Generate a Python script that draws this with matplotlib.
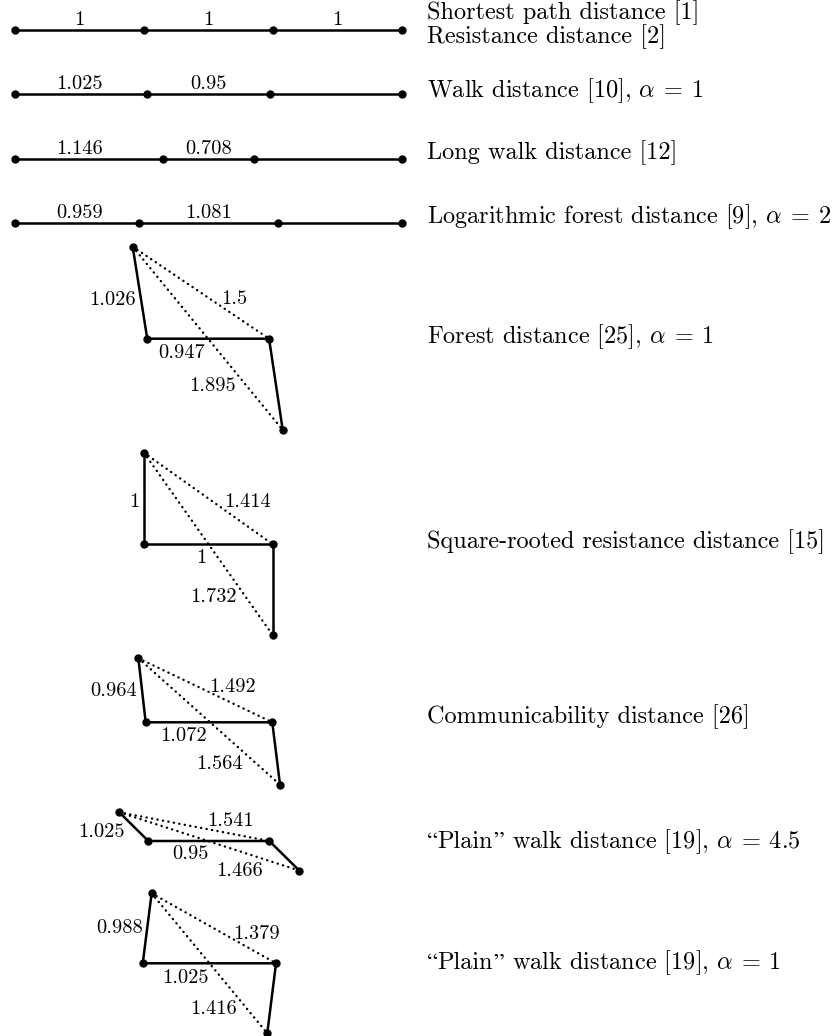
import numpy as np
import matplotlib.pyplot as plt

plt.rcParams['font.family'] = ['cmr10', 'DejaVu Serif']
plt.rcParams['mathtext.fontset'] = 'cm'
plt.rcParams['axes.unicode_minus'] = False

# --- path graph 1-2-3-4 embedded on a line: edge lengths ---
shortest_edges = [1, 1, 1]
walk_edges = [1.025, 0.95, 1.025]
long_walk_edges = [1.146, 0.708, 1.146]
logforest_edges = [0.959, 1.081, 0.959]
line_edges = [shortest_edges, walk_edges, long_walk_edges, logforest_edges]
line_labels = [["1", "1", "1"], ["1.025", "0.95"], ["1.146", "0.708"], ["0.959", "1.081"]]

# --- embeddings drawn in the plane (projected): node coords in distance units ---
# nodes A, B, C, D ; y measured downward from the B-C edge
forest_x = [0.913, 1.026, 1.971, 2.077]
forest_y = [-0.714, 0.0, 0.0, 0.708]
sqrt_res_x = [1.0, 1.0, 2.0, 2.0]
sqrt_res_y = [-0.711, 0.0, 0.0, 0.706]
comm_x = [0.957, 1.014, 1.996, 2.056]
comm_y = [-0.497, 0.0, 0.0, 0.484]
plain45_x = [0.809, 1.034, 1.973, 2.206]
plain45_y = [-0.223, 0.0, 0.0, 0.230]
plain1_x = [1.060, 0.991, 2.025, 1.957]
plain1_y = [-0.543, 0.0, 0.0, 0.543]

# labels for edges AB, AC, BC, AD
forest_labels = ["1.026", "1.5", "0.947", "1.895"]
sqrt_res_labels = ["1", "1.414", "1", "1.732"]
comm_labels = ["0.964", "1.492", "1.072", "1.564"]
plain45_labels = ["1.025", "1.541", "0.95", "1.466"]
plain1_labels = ["0.988", "1.379", "1.025", "1.416"]

# names, split in pieces so the curly quotes can come from another font
Q = 'STIXGeneral'
names = [
    [("Shortest path distance [1]", None)],
    [("Resistance distance [2]", None)],
    [(r"Walk distance [10], $\alpha\:=\:1$", None)],
    [("Long walk distance [12]", None)],
    [(r"Logarithmic forest distance [9], $\alpha\:=\:2$", None)],
    [(r"Forest distance [25], $\alpha\:=\:1$", None)],
    [("Square-rooted resistance distance [15]", None)],
    [("Communicability distance [26]", None)],
    [("\u201c", Q), ("Plain", None), ("\u201d", Q),
     (r" walk distance [19], $\alpha\:=\:4.5$", None)],
    [("\u201c", Q), ("Plain", None), ("\u201d", Q),
     (r" walk distance [19], $\alpha\:=\:1$", None)],
]

# layout (pixels)
W, H = 835, 1036
scale = 128.9      # px per distance unit
x0 = 15
line_rows = [30.3, 94.3, 158.7, 222.7]
panel_rows = [338.7, 544.3, 722.3, 841.0, 963.3]
name_rows = [13.3, 37.3, 90.7, 153, 216.7, 336.7, 541.7, 716.7, 841.7, 963.3]
name_x = 427
# label placement: (t along edge, dx, dy) for AB, AC, BC, AD
label_pos = [
    [(0.5, -27.3, 5.6), (0.75, -0.9, -18.4), (0.5, -26.5, 13), (0.75, -32.9, -0.2)],
    [(0.5, -10, 1.5), (0.75, 6.8, -21.4), (0.5, -6.6, 11.7), (0.75, -27.2, 6)],
    [(0.5, -28.7, -1), (0.75, -6.1, -21.3), (0.5, -25.7, 12), (0.75, -25.6, 9.6)],
    [(0.5, -32.1, 4), (0.75, -1.8, -14.5), (0.5, -18.8, 11.3), (0.75, -14.3, 13.2)],
    [(0.5, -27.9, -1.6), (0.75, 11.8, -13.1), (0.5, -24.4, 12.7), (0.75, -25.1, 9)],
]

name_fs = 17.5
lab_fs = 14.7
lw = 1.8
ms = 5.0

fig = plt.figure(figsize=(W / 100, H / 100), dpi=100)
ax = fig.add_axes([0, 0, 1, 1])
ax.set_xlim(0, W)
ax.set_ylim(H, 0)
ax.axis('off')

# line embeddings
for edges, labs, row in zip(line_edges, line_labels, line_rows):
    xs = x0 + scale * np.concatenate(([0], np.cumsum(edges)))
    ys = np.full(len(xs), row)
    ax.plot(xs, ys, '-', color='black', lw=lw, zorder=2)
    ax.plot(xs, ys, 'o', color='black', ms=ms, zorder=3)
    for i, lab in enumerate(labs):
        ax.text(x0 + scale * (i + 0.5), row - 5, lab, fontsize=lab_fs,
                ha='center', va='baseline')

# planar embeddings
panels = [
    (forest_x, forest_y, forest_labels),
    (sqrt_res_x, sqrt_res_y, sqrt_res_labels),
    (comm_x, comm_y, comm_labels),
    (plain45_x, plain45_y, plain45_labels),
    (plain1_x, plain1_y, plain1_labels),
]
for (px, py, labs), row, lpos in zip(panels, panel_rows, label_pos):
    xs = x0 + scale * np.array(px)
    ys = row + scale * np.array(py)
    # dotted: A-C and A-D
    for j in (2, 3):
        ax.plot([xs[0], xs[j]], [ys[0], ys[j]], color='black', lw=1.7,
                linestyle=(0, (0.1, 2.25)), dash_capstyle='round', zorder=1)
    ax.plot(xs, ys, '-', color='black', lw=lw, zorder=2)
    ax.plot(xs, ys, 'o', color='black', ms=ms, zorder=3)
    pairs = [(0, 1), (0, 2), (1, 2), (0, 3)]
    for (a, b), lab, (t, dx, dy) in zip(pairs, labs, lpos):
        lx = xs[a] + t * (xs[b] - xs[a]) + dx
        ly = ys[a] + t * (ys[b] - ys[a]) + dy
        ax.text(lx, ly + 6.6, lab, fontsize=lab_fs, ha='center', va='baseline')

# names on the right, pieces chained along one baseline
renderer = fig.canvas.get_renderer()
for pieces, y in zip(names, name_rows):
    x = name_x
    for s, fam in pieces:
        kw = {'family': fam} if fam else {}
        t = ax.text(x, y + 6, s, fontsize=name_fs, ha='left', va='baseline', **kw)
        bb = t.get_window_extent(renderer)
        x = ax.transData.inverted().transform((bb.x1, bb.y0))[0]

fig.savefig('out.png', dpi=100)
